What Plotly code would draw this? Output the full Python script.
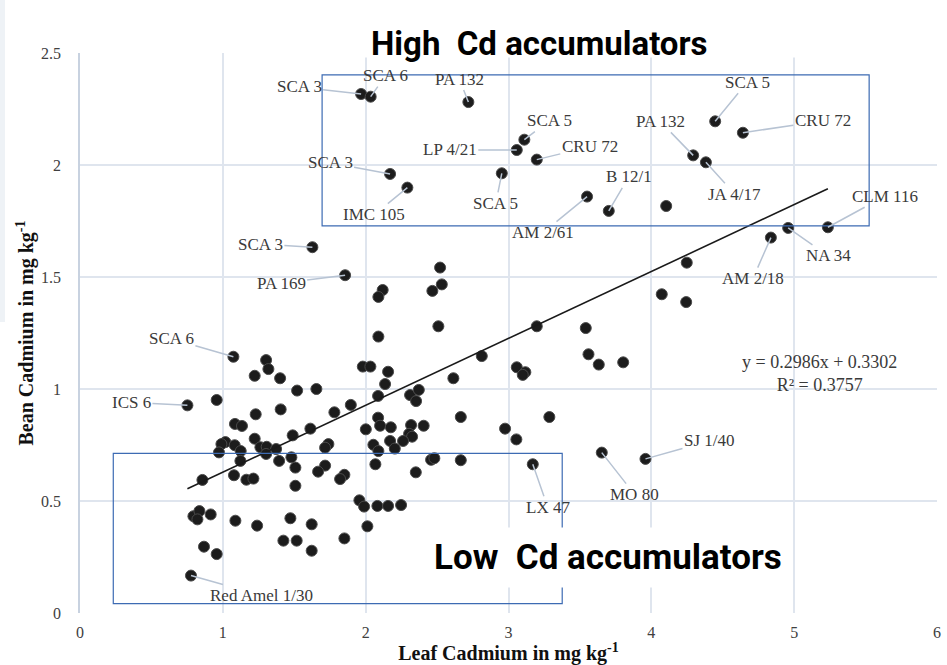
import plotly.graph_objects as go

# ---------------- data ----------------
LABELLED_NAMES = ["SCA 3", "SCA 6", "PA 132", "SCA 5", "LP 4/21", "CRU 72", "SCA 3", "SCA 5",
                  "IMC 105", "AM 2/61", "B 12/1", "PA 132", "JA 4/17", "SCA 5", "CRU 72",
                  "CLM 116", "NA 34", "AM 2/18", "SCA 3", "PA 169", "SCA 6", "ICS 6",
                  "LX 47", "MO 80", "SJ 1/40", "Red Amel 1/30"]
LABELLED_LEAF = [1.968, 2.035, 2.719, 3.111, 3.058, 3.198, 2.171, 2.953,
                 2.292, 3.550, 3.702, 4.293, 4.382, 4.447, 4.641,
                 5.236, 4.958, 4.837, 1.627, 1.856, 1.074, 0.752,
                 3.170, 3.653, 3.959, 0.777]
LABELLED_BEAN = [2.317, 2.305, 2.281, 2.113, 2.067, 2.024, 1.960, 1.963,
                 1.899, 1.859, 1.795, 2.043, 2.012, 2.195, 2.144,
                 1.722, 1.719, 1.676, 1.633, 1.508, 1.144, 0.927,
                 0.664, 0.716, 0.688, 0.167]

OTHER_LEAF = [4.104, 4.248, 4.073, 4.244, 3.198, 3.541, 3.560, 3.632, 3.803, 3.058, 3.118, 3.100,
              2.813, 2.666, 3.286, 2.976, 3.055, 2.521, 2.533, 2.467, 2.119, 2.089, 2.509, 2.089,
              2.614, 1.980, 2.033, 2.157, 2.136, 2.087, 2.311, 2.372, 2.353, 2.087, 2.101, 2.001,
              2.176, 2.318, 2.406, 2.304, 2.325, 2.262, 2.054, 2.089, 2.171, 2.204, 2.068, 2.351,
              2.458, 2.481, 2.666,
              0.957, 1.303, 1.319, 1.223, 1.401, 1.520, 1.655, 1.230, 1.405, 1.085, 1.134, 1.018,
              0.990, 0.973, 1.083, 1.125, 1.123, 1.223, 1.263, 1.307, 1.373, 1.303, 1.394, 1.489,
              1.613, 1.480, 1.508, 1.739, 1.716, 1.781, 1.896, 1.716, 1.667, 1.078, 1.165, 1.214,
              1.508, 0.857, 1.851, 1.821,
              1.956, 1.989, 2.082, 2.157, 2.248, 2.012, 0.794, 0.836, 0.822, 0.915, 1.088, 1.240,
              1.473, 1.622, 1.424, 1.517, 1.622, 1.851, 0.868, 0.957]
OTHER_BEAN = [1.817, 1.564, 1.423, 1.388, 1.280, 1.272, 1.155, 1.109, 1.119, 1.097, 1.075, 1.063,
              1.147, 0.875, 0.875, 0.823, 0.775, 1.542, 1.467, 1.438, 1.442, 1.411, 1.280, 1.234,
              1.048, 1.100, 1.100, 1.077, 1.022, 0.969, 0.973, 0.996, 0.946, 0.872, 0.836, 0.820,
              0.829, 0.839, 0.836, 0.800, 0.787, 0.768, 0.751, 0.723, 0.768, 0.734, 0.664, 0.628,
              0.684, 0.691, 0.682,
              0.951, 1.129, 1.089, 1.059, 1.048, 0.993, 1.000, 0.887, 0.909, 0.844, 0.835, 0.763,
              0.754, 0.717, 0.749, 0.723, 0.679, 0.778, 0.740, 0.742, 0.732, 0.710, 0.679, 0.793,
              0.823, 0.695, 0.649, 0.754, 0.738, 0.896, 0.929, 0.658, 0.631, 0.615, 0.595, 0.600,
              0.568, 0.594, 0.617, 0.598,
              0.503, 0.475, 0.478, 0.478, 0.482, 0.387, 0.432, 0.455, 0.418, 0.440, 0.412, 0.390,
              0.423, 0.396, 0.323, 0.323, 0.278, 0.333, 0.296, 0.263]

TREND_SLOPE = 0.2986
TREND_INTERCEPT = 0.3302
R_SQUARED = 0.3757

X_TICKS = [0, 1, 2, 3, 4, 5, 6]
Y_TICKS = [0, 0.5, 1, 1.5, 2, 2.5]

# ---------------- layout helpers (positions / styles) ----------------
LABEL_OFFSETS = [(-62, -7), (15, -21), (-9, -23), (25, -19), (-67, 0), (53, -13), (-60, -11), (-6, 30),
                 (-33, 27), (-44, 36), (20, -34), (-33, -34), (29, 32), (32, -39), (80, -12),
                 (57, -31), (40, 28), (-18, 41), (-52, -3), (-64, 8), (-62, -18), (-56, -3),
                 (15, 43), (33, 42), (64, -18), (71, 20)]
HIGH_BOX = dict(x0=1.695, x1=5.525, y0=1.728, y1=2.402)
LOW_BOX = dict(x0=0.233, x1=3.376, y0=0.042, y1=0.713)

SERIF = "Liberation Serif, Times New Roman, serif"
SANS = "Roboto, Arial, sans-serif"
GRID = "#dfe5ee"
LEADER = "#b7c3d3"
BOX = "#3d6bb3"
DOT = "#1c1c1c"

all_leaf = OTHER_LEAF + LABELLED_LEAF
all_bean = OTHER_BEAN + LABELLED_BEAN

fig = go.Figure()

fig.add_trace(go.Scatter(
    x=all_leaf, y=all_bean, mode="markers",
    marker=dict(size=11, color=DOT, line=dict(color="#4a4a4a", width=1)),
    showlegend=False, hoverinfo="x+y"))

x_min, x_max = min(all_leaf), max(all_leaf)
fig.add_trace(go.Scatter(
    x=[x_min, x_max],
    y=[TREND_SLOPE * x_min + TREND_INTERCEPT, TREND_SLOPE * x_max + TREND_INTERCEPT],
    mode="lines", line=dict(color="#1a1a1a", width=1.6), showlegend=False, hoverinfo="skip"))

annotations = []
for name, lx, by, (ax, ay) in zip(LABELLED_NAMES, LABELLED_LEAF, LABELLED_BEAN, LABEL_OFFSETS):
    annotations.append(dict(
        x=lx, y=by, xref="x", yref="y", text=name, showarrow=True, ax=ax, ay=ay,
        arrowhead=0, arrowwidth=1.5, arrowcolor=LEADER, standoff=0, startstandoff=0,
        font=dict(family=SERIF, size=17, color="#3a3a3a")))

annotations.append(dict(
    x=5.18, y=1.07, xref="x", yref="y", showarrow=False,
    text=f"y = {TREND_SLOPE}x + {TREND_INTERCEPT}<br>R² = {R_SQUARED}",
    font=dict(family=SERIF, size=18, color="#3a3a3a"), align="center"))

annotations.append(dict(
    x=(539 - 80) / 857, y=1 + (53 - 22) / 560, xref="paper", yref="paper", showarrow=False,
    text="<b>High  Cd accumulators</b>", font=dict(family=SANS, size=33, color="#000000")))

annotations.append(dict(
    x=3.7, y=0.25, xref="x", yref="y", showarrow=False,
    text="<b>Low  Cd accumulators</b>", font=dict(family=SANS, size=35, color="#000000"),
    bgcolor="#ffffff", borderpad=9))

shapes = [
    dict(type="rect", xref="x", yref="y", line=dict(color=BOX, width=1.2), fillcolor="rgba(0,0,0,0)",
         layer="above", **HIGH_BOX),
    dict(type="rect", xref="x", yref="y", line=dict(color=BOX, width=1.2), fillcolor="rgba(0,0,0,0)",
         layer="above", **LOW_BOX),
    # white patch hiding the top gridline under the "High" heading
    dict(type="rect", xref="paper", yref="paper", x0=(339 - 80) / 857, x1=(889 - 80) / 857,
         y0=0.992, y1=1.01, fillcolor="#ffffff", line=dict(width=0), layer="above"),
    # faint strip on the left edge
    dict(type="rect", xref="paper", yref="paper", x0=-80 / 857, x1=-75 / 857,
         y0=(613 - 322) / 560, y1=(613) / 560, fillcolor="#eef2f6", line=dict(width=0), layer="below"),
]

fig.update_layout(
    width=947, height=665,
    margin=dict(l=80, r=10, t=53, b=52),
    paper_bgcolor="#ffffff", plot_bgcolor="#ffffff",
    annotations=annotations, shapes=shapes,
    showlegend=False,
    xaxis=dict(
        range=[0, 6], tickvals=X_TICKS, ticktext=[str(v) for v in X_TICKS],
        showgrid=True, gridcolor=GRID, gridwidth=1.5, zeroline=False,
        showline=False, ticks="", ticklabelstandoff=8,
        tickfont=dict(family=SERIF, size=16, color="#404040"),
        title=dict(text="<b>Leaf Cadmium in mg kg<sup>-1</sup></b>", standoff=0,
                   font=dict(family=SERIF, size=20, color="#111111")),
        automargin=False),
    yaxis=dict(
        range=[0, 2.5], tickvals=Y_TICKS, ticktext=["0", "0.5", "1", "1.5", "2", "2.5"],
        showgrid=True, gridcolor=GRID, gridwidth=1.5, zeroline=False,
        showline=True, linecolor="#c8d2e0", linewidth=1.5, ticks="",
        ticklabelstandoff=14,
        tickfont=dict(family=SERIF, size=16, color="#404040"),
        title=dict(text="<b>Bean Cadmium in mg kg<sup>-1</sup></b>", standoff=2,
                   font=dict(family=SERIF, size=20, color="#111111")),
        automargin=False),
)

fig.write_html("out.html", config={"displayModeBar": False},
               post_script="document.body.style.margin='0';")
